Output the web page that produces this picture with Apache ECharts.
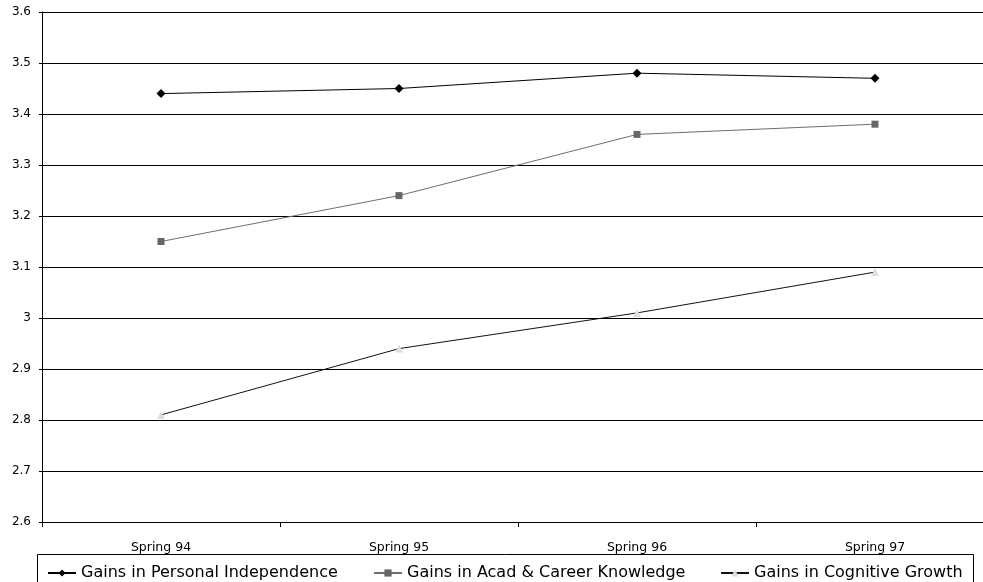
<!DOCTYPE html>
<html>
<head>
<meta charset="utf-8">
<script src="https://cdn.jsdelivr.net/npm/echarts@6/dist/echarts.min.js"></script>
<style>
  html, body { margin: 0; padding: 0; background: #fff; overflow: hidden; width: 983px; height: 582px; }
  /* the plot area runs a little past the right edge of the page */
  #chart { width: 994px; height: 582px; }
</style>
</head>
<body>
<div id="chart"></div>
<script>
// Survey terms on the category axis
const terms = ['Spring 94', 'Spring 95', 'Spring 96', 'Spring 97'];

// Mean ratings per term
const personalIndependence = [3.44, 3.45, 3.48, 3.47];
const acadCareerKnowledge = [3.15, 3.24, 3.36, 3.38];
const cognitiveGrowth = [2.81, 2.94, 3.01, 3.09];

const seriesNames = [
  'Gains in Personal Independence',
  'Gains in Acad & Career Knowledge',
  'Gains in Cognitive Growth'
];

const FONT = 'DejaVu Sans';

const chart = echarts.init(document.getElementById('chart'), null, { renderer: 'canvas' });

function legendAt(left, name) {
  return {
    left: left,
    top: 565,
    orient: 'horizontal',
    data: [name],
    itemWidth: 28,
    itemHeight: 9,
    itemGap: 0,
    padding: 0,
    selectedMode: false,
    textStyle: { fontFamily: FONT, fontSize: 16, color: '#000' }
  };
}

chart.setOption({
  animation: false,
  backgroundColor: '#fff',
  grid: { left: 42, top: 12, right: 0, bottom: 60, containLabel: false },
  legend: [
    legendAt(47, seriesNames[0]),
    legendAt(373, seriesNames[1]),
    legendAt(720, seriesNames[2])
  ],
  graphic: [{
    type: 'rect',
    shape: { x: 37.5, y: 554.5, width: 936, height: 40 },
    style: { fill: 'none', stroke: '#000', lineWidth: 1 },
    silent: true,
    z: 0
  }],
  xAxis: {
    type: 'category',
    data: terms,
    boundaryGap: true,
    axisLine: { lineStyle: { color: '#000', width: 1 } },
    axisTick: { show: true, inside: false, length: 5, alignWithLabel: false, lineStyle: { color: '#000' } },
    axisLabel: { fontFamily: FONT, fontSize: 12.5, color: '#000', margin: 19 },
    splitLine: { show: false }
  },
  yAxis: {
    type: 'value',
    min: 2.6,
    max: 3.6,
    interval: 0.1,
    axisLine: { show: true, lineStyle: { color: '#000', width: 1 } },
    axisTick: { show: true, inside: false, length: 3, lineStyle: { color: '#000' } },
    axisLabel: { fontFamily: FONT, fontSize: 12, color: '#000', margin: 11 },
    splitLine: { show: true, lineStyle: { color: '#000', width: 1 } }
  },
  series: [
    {
      name: seriesNames[0],
      type: 'line',
      data: personalIndependence,
      symbol: 'diamond',
      symbolSize: 9,
      showAllSymbol: true,
      lineStyle: { color: '#000', width: 1 },
      itemStyle: { color: '#000' },
      z: 3
    },
    {
      name: seriesNames[1],
      type: 'line',
      data: acadCareerKnowledge,
      symbol: 'rect',
      symbolSize: 7,
      lineStyle: { color: '#6e6e6e', width: 1 },
      itemStyle: { color: '#666' },
      z: 3
    },
    {
      name: seriesNames[2],
      type: 'line',
      data: cognitiveGrowth,
      symbol: 'triangle',
      symbolSize: 8,
      lineStyle: { color: '#111', width: 1 },
      itemStyle: { color: '#ddd' },
      z: 3
    }
  ]
});
</script>
</body>
</html>
